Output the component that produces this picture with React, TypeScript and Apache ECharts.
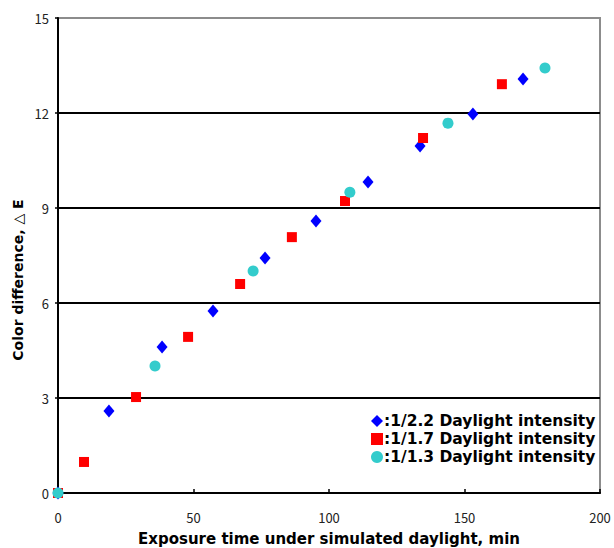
import React, { useEffect, useRef } from "react";
import * as echarts from "echarts";

const seriesNames = [
  ":1/2.2 Daylight intensity",
  ":1/1.7 Daylight intensity",
  ":1/1.3 Daylight intensity",
];

const diamondData: [number, number][] = [
  [0, 0], [18.8, 2.59], [38.4, 4.61], [57.2, 5.75], [76.4, 7.42], [95.2, 8.59],
  [114.4, 9.82], [133.6, 10.96], [153.1, 11.97], [171.6, 13.07],
];
const squareData: [number, number][] = [
  [0, 0], [9.6, 0.98], [28.8, 3.03], [48, 4.93], [67.2, 6.6], [86.3, 8.08],
  [105.9, 9.22], [134.7, 11.21], [163.8, 12.91],
];
const circleData: [number, number][] = [
  [0, 0], [35.8, 4.01], [72, 7.01], [107.7, 9.5], [143.9, 11.68], [179.7, 13.42],
];

const xTitle = "Exposure time under simulated daylight, min";
const yTitle = "Color difference, △ E";

export default function App() {
  const ref = useRef<HTMLDivElement>(null);
  useEffect(() => {
    if (!ref.current) return;
    const chart = echarts.init(ref.current, undefined, { renderer: "svg" });
    const tickFont = { fontFamily: "Noto Sans CJK JP", fontSize: 13, color: "#222" };
    const boldFont = { fontFamily: "DejaVu Sans", fontWeight: "bold", fontSize: 15, color: "#000" };
    chart.setOption({
      animation: false,
      backgroundColor: "#fff",
      grid: {
        left: 58, right: 14, top: 18, bottom: 55,
        outerBoundsMode: "none",
        containLabel: false,
        show: true, borderColor: "#8c8c8c", borderWidth: 2, backgroundColor: "transparent",
      },
      graphic: [
        {
          type: "text",
          x: 18,
          y: 280,
          rotation: Math.PI / 2,
          style: {
            text: yTitle,
            fontFamily: "DejaVu Sans",
            fontWeight: "bold",
            fontSize: 14,
            fill: "#000",
            align: "center",
            verticalAlign: "middle",
          },
        },
      ],
      legend: {
        orient: "vertical",
        left: 366,
        top: 408,
        itemGap: 2,
        itemWidth: 12,
        itemHeight: 12,
        textStyle: { ...boldFont, fontSize: 15.5, padding: [0, 0, 0, -4] },
        data: seriesNames.map((n) => ({ name: n, itemStyle: { opacity: 1 } })),
      },
      xAxis: {
        type: "value",
        min: 0, max: 200, interval: 50,
        name: xTitle,
        nameLocation: "middle",
        nameGap: 38,
        nameTextStyle: boldFont,
        axisLine: { show: true, onZero: false, lineStyle: { color: "#000", width: 2 } },
        axisTick: { show: true, inside: true, length: 4, lineStyle: { color: "#000", width: 1.5 } },
        axisLabel: { ...tickFont, margin: 18 },
        splitLine: { show: false },
      },
      yAxis: {
        type: "value",
        min: 0, max: 15, interval: 3,
        axisLine: { show: true, onZero: false, lineStyle: { color: "#000", width: 2 } },
        axisTick: { show: true, inside: false, length: 3, lineStyle: { color: "#000", width: 1.5 } },
        axisLabel: { ...tickFont, margin: 9 },
        splitLine: { show: true, showMinLine: false, showMaxLine: false, lineStyle: { color: "#000", width: 2 } },
      },
      series: [
        {
          name: seriesNames[0], type: "scatter", data: diamondData,
          symbol: "diamond", symbolSize: [11, 13],
          itemStyle: { color: "#0000ff", opacity: 1 }, z: 3,
        },
        {
          name: seriesNames[1], type: "scatter", data: squareData,
          symbol: "rect", symbolSize: 10,
          itemStyle: { color: "#ff0000", opacity: 1 }, z: 4,
        },
        {
          name: seriesNames[2], type: "scatter", data: circleData,
          symbol: "circle", symbolSize: 11,
          itemStyle: { color: "#33cccc", opacity: 1 }, z: 5,
        },
      ],
    });
    return () => chart.dispose();
  }, []);
  return <div ref={ref} style={{ width: 614, height: 548, position: "absolute", left: 0, top: 0 }} />;
}
